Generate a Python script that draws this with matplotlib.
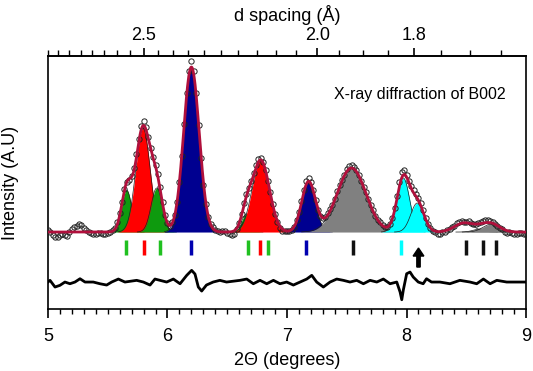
import numpy as np
import matplotlib
matplotlib.use("Agg")
import matplotlib.pyplot as plt
from matplotlib.ticker import FixedLocator, MultipleLocator

plt.rcParams['font.family'] = ['Liberation Sans', 'DejaVu Sans']

WAVELENGTH = 0.253  # Angstrom, used for the d spacing axis
BASELINE = 77       # intensity level of the fitted background
DIFF_LEVEL = 27     # offset of the difference curve

# fitted peaks (2theta, height, gaussian sigma)
peak_pos = [5.658, 5.795, 5.91, 6.20, 6.66, 6.78, 7.18, 7.54, 7.973, 8.09, 8.48, 8.62, 8.71]
peak_height = [42, 104, 44, 165, 18, 72, 50, 64, 54, 29, 9, 3, 8]
peak_sigma = [0.042, 0.06, 0.047, 0.065, 0.04, 0.072, 0.057, 0.12, 0.053, 0.055, 0.08, 0.06, 0.07]
peak_color = ['#0E9A0E', '#FF0000', '#0E9A0E', '#000090', '#0E9A0E', '#FF0000', '#000090',
              '#808080', '#00FFFF', '#00FFFF', '#FFFFFF', '#808080', '#808080']

# reflection markers
refl_pos = [5.65, 5.80, 5.94, 6.20, 6.67, 6.77, 6.84, 7.16, 7.55, 7.95, 8.50, 8.64, 8.75]
refl_color = ['#20C020', '#FF0000', '#20C020', '#0000B0', '#20C020', '#FF0000', '#20C020',
              '#0000B0', '#111111', '#00FFFF', '#111111', '#111111', '#111111']

# observed points: deviation from the fit, every 0.02 deg from 5.00 to 9.00
obs_dev = [2, 0, -3, -5, -5, -3, -2, -3, -4, 0,
           3, 5, 6, 8, 7, 4, 2, 0, -1, -2,
           -2, -1, -1, -2, -2, -1, 0, 1, 1, 2,
           2, 1, 1, 0, -1, 1, 2, 3, 3, 4,
           4, 3, 2, 1, 1, 2, 3, 3, 2, 1,
           0, 0, 1, 1, 0, -1, -1, 0, 2, 4,
           6, 4, 2, -1, -3, -3, -2, -1, 0, 1,
           1, 0, 0, 1, 1, -1, -2, -3, -3, -1,
           0, 1, 2, 2, 1, 1, 2, 3, 3, 2,
           1, 0, 0, 1, 1, 0, -1, -2, -2, -1,
           0, 0, -1, 0, 1, 1, 2, 3, 4, 3,
           2, 1, 0, -1, -1, 0, 1, 2, 2, 1,
           1, 2, 2, 1, 1, 2, 3, 3, 2, 1,
           1, 0, 0, 1, 1, 1, 1, 0, 0, 1,
           1, 0, 0, 1, 1, 2, 3, 5, 6, 4,
           2, 2, 3, 3, 2, 2, 3, 2, 1, 0,
           0, -1, -1, -2, -2, -1, -1, 0, 0, 1,
           1, 2, 2, 2, 1, 1, 2, 1, 0, 0,
           1, 2, 2, 3, 3, 2, 1, 0, 0, -1,
           -1, -2, -2, -1, -1, -2, -2, -1, -1, -2,
           -2]

# difference curve
diff_x = [5.00, 5.017, 5.059, 5.100, 5.142, 5.184, 5.226, 5.268, 5.310, 5.379, 5.435,
          5.491, 5.533, 5.589, 5.644, 5.742, 5.798, 5.854, 5.895, 5.993, 6.049, 6.105,
          6.161, 6.202, 6.230, 6.258, 6.286, 6.326, 6.382, 6.438, 6.494, 6.607, 6.663,
          6.718, 6.774, 6.830, 6.886, 6.941, 6.997, 7.053, 7.109, 7.165, 7.207, 7.248,
          7.304, 7.360, 7.416, 7.471, 7.527, 7.583, 7.639, 7.695, 7.751, 7.806, 7.862,
          7.918, 7.946, 7.960, 7.973, 8.001, 8.029, 8.056, 8.098, 8.139, 8.167, 8.209,
          8.279, 8.363, 8.446, 8.531, 8.587, 8.643, 8.699, 8.755, 8.838, 8.950, 9.00]
diff_y = [0, 1.7, -5, -3.3, 0, -1.7, 0, 3.3, 0, 0, -1.7,
          -3, 0, 3, 0, 1.7, 0, -3, 3, 0, 3, -1.7,
          6.7, 11.7, 8, -5, -9, -3, 0, 1.7, 0, 1.7, 3,
          -1.7, 1.7, -1.7, 1.7, -1.7, 0, -3, 0, 3, 6.7, 0,
          -5, 0, 3, 1.7, 0, 1.7, -1.7, 1.7, 0, 3, -1.7,
          0, -10, -17.7, -8, 8.3, 10, 5, 0, -1.7, 3.3, 0,
          0, -1.7, 1.7, 0, -1.7, 3, -1.7, 1.7, 0, 0, 0]


def peak(x, i):
    return peak_height[i] * np.exp(-0.5 * ((x - peak_pos[i]) / peak_sigma[i]) ** 2)


def fit(x):
    return BASELINE + sum(peak(x, i) for i in range(len(peak_pos)))


def tth_to_d(t):
    t = np.clip(t, 0.1, 179)
    return WAVELENGTH / (2 * np.sin(np.radians(t / 2)))


def d_to_tth(d):
    d = np.clip(d, WAVELENGTH / 2 + 1e-9, None)
    return 2 * np.degrees(np.arcsin(WAVELENGTH / (2 * d)))


fig = plt.figure(figsize=(5.33, 3.71), dpi=100)
ax = fig.add_axes([0.090, 0.167, 0.897, 0.682])

x = np.linspace(5, 9, 1200)

# individual peaks
for i in range(len(peak_pos)):
    xs = x[np.abs(x - peak_pos[i]) < 3.5 * peak_sigma[i]]
    g = peak(xs, i)
    ax.fill_between(xs, BASELINE, BASELINE + g, color=peak_color[i], lw=0, zorder=2)
    ax.plot(xs, BASELINE + g, color='#202020', lw=0.5, zorder=2)

# observed data and fit
obs_x = 5 + 0.02 * np.arange(len(obs_dev))
obs_y = fit(obs_x) + np.array(obs_dev)
ax.plot(obs_x, obs_y, 'o', mfc='none', mec='#222222', ms=3.8, mew=0.7, zorder=3)
ax.plot(x, fit(x), color='#B0103C', lw=2.0, zorder=4)

# reflection markers
for p, c in zip(refl_pos, refl_color):
    ax.vlines(p, 54, 69, color=c, lw=2.5, zorder=3)

ax.arrow(8.10, 42, 0, 19, width=0.028, head_width=0.09, head_length=8,
         length_includes_head=True, color='black', zorder=3)

# difference curve
ax.plot(diff_x, DIFF_LEVEL + np.array(diff_y), color='black', lw=2, zorder=3)

ax.text(7.39, 215, 'X-ray diffraction of B002', fontsize=11.5, va='center', ha='left')

ax.set_xlim(5, 9)
ax.set_ylim(0, 253)
ax.set_yticks([])
ax.xaxis.set_major_locator(MultipleLocator(1))
ax.xaxis.set_minor_locator(MultipleLocator(0.1))
ax.tick_params(axis='x', which='major', direction='out', length=6.5, width=1.2,
               labelsize=13, pad=7, top=False)
ax.tick_params(axis='x', which='minor', direction='out', length=3.5, width=1.0, top=False)
ax.set_xlabel('2Θ (degrees)', fontsize=13, labelpad=5)
ax.set_ylabel('Intensity (A.U)', fontsize=13, labelpad=21)
for s in ax.spines.values():
    s.set_linewidth(1.2)

secax = ax.secondary_xaxis('top', functions=(tth_to_d, d_to_tth))
secax.xaxis.set_major_locator(FixedLocator([2.5, 2.0, 1.8]))
secax.set_xticklabels(['2.5', '2.0', '1.8'])
secax.xaxis.set_minor_locator(FixedLocator(np.round(np.arange(1.65, 2.91, 0.05), 2)))
secax.tick_params(which='major', direction='out', length=6, width=1.2, labelsize=13, pad=3)
secax.tick_params(which='minor', direction='out', length=4.5, width=1.0)
secax.set_xlabel('d spacing (Å)', fontsize=13, labelpad=4)
secax.spines['top'].set_linewidth(1.2)

fig.savefig('out.png', dpi=100)
